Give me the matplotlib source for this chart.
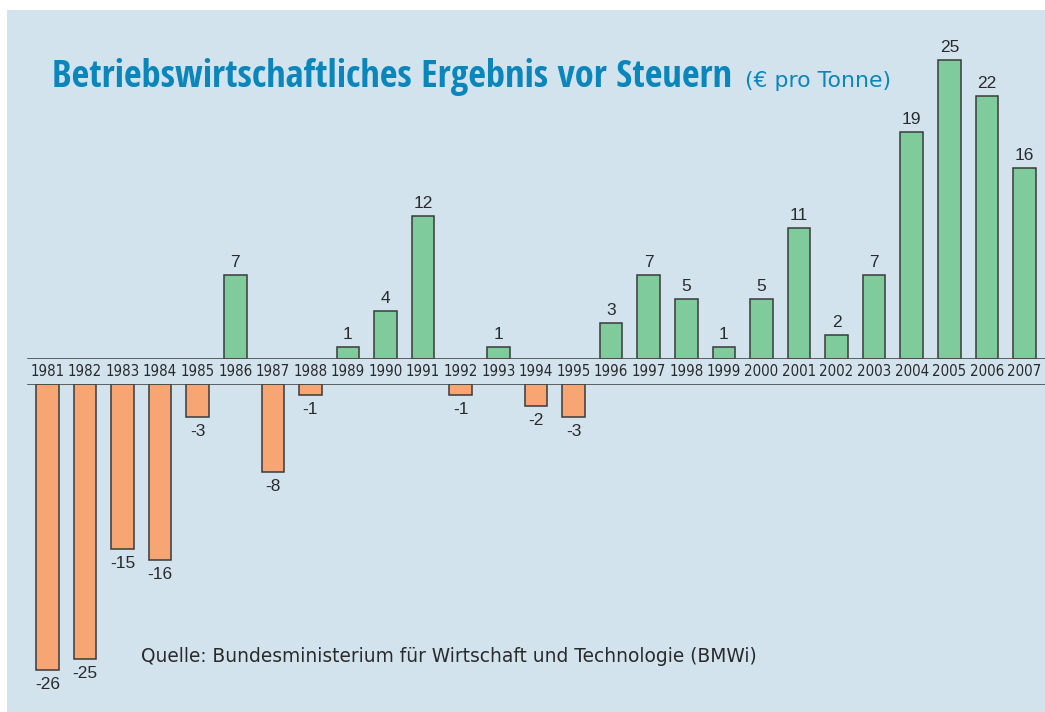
import matplotlib.pyplot as plt
from matplotlib.patches import Rectangle

years = list(range(1981, 2008))
values = [-26, -25, -15, -16, -3, 7, -8, -1, 1, 4, 12, -1, 1, -2, -3,
          3, 7, 5, 1, 5, 11, 2, 7, 19, 25, 22, 16]

title = "Betriebswirtschaftliches Ergebnis vor Steuern"
unit = "(€ pro Tonne)"
source = "Quelle: Bundesministerium für Wirtschaft und Technologie (BMWi)"

BG = "#d3e3ee"
GREEN = "#80cb9b"
ORANGE = "#f6a573"
EDGE = "#3a3a3a"
BLUE = "#0a86bb"
TEXT = "#2a2a2a"

W, H = 1045, 712
fig = plt.figure(figsize=(W / 100, H / 100), dpi=100)
fig.patch.set_facecolor("white")
fig.patches.append(Rectangle((7 / W, 0), 1, 702 / H, transform=fig.transFigure,
                             facecolor=BG, edgecolor="none", zorder=-5))

# x scale: 1981 centre at 47 px, step 37.6 px
step = 37.58
xlim = (1981 - 47.3 / step, 2007 + (W - 1024.5) / step)

# upper panel for positive bars, lower panel for negative bars
ax_top = fig.add_axes([0, 353 / H, 1, 349 / H])
ax_bot = fig.add_axes([0, 0, 1, 328 / H])
ax_top.set_ylim(0, 349 / 11.95)
ax_bot.set_ylim(-328 / 11.0, 0)

for ax in (ax_top, ax_bot):
    ax.set_xlim(*xlim)
    ax.patch.set_visible(False)
    ax.axis("off")
    ax.axhline(0, xmin=28 / W, xmax=1, color="#4a4a4a", lw=1.2, zorder=3)

for yr, v in zip(years, values):
    if v > 0:
        ax_top.bar(yr, v, width=0.6, color=GREEN, edgecolor=EDGE, lw=1.1, zorder=2)
        ax_top.annotate(str(v), (yr, v), xytext=(0, 3.5), textcoords="offset points",
                        ha="center", va="bottom", fontsize=12.5,
                        family="Liberation Sans", color=TEXT)
    else:
        ax_bot.bar(yr, v, width=0.6, color=ORANGE, edgecolor=EDGE, lw=1.1, zorder=2)
        ax_bot.annotate(str(v), (yr, v), xytext=(0, -5), textcoords="offset points",
                        ha="center", va="top", fontsize=12.5,
                        family="Liberation Sans", color=TEXT)
    ax_top.annotate(str(yr), (yr, 0), xytext=(0, -9), textcoords="offset points",
                    ha="center", va="center", fontsize=10.8,
                    fontstretch="condensed", family="DejaVu Sans",
                    color=TEXT, annotation_clip=False)

fig.text(52 / W, 1 - 87 / H, title, fontsize=27.7, fontweight="bold",
         fontstretch="condensed", family="Open Sans Condensed",
         color=BLUE, ha="left", va="baseline")
fig.text(745 / W, 1 - 87 / H, unit, fontsize=15.8, family="DejaVu Sans",
         color=BLUE, ha="left", va="baseline")
fig.text(141 / W, 1 - 657 / H, source, fontsize=13.4, family="DejaVu Sans",
         color=TEXT, ha="left", va="center")

fig.savefig("out.png", dpi=100)
